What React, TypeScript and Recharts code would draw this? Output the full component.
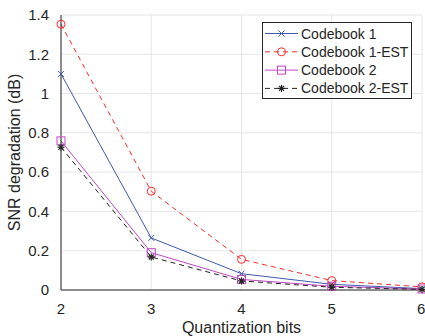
import { LineChart, Line, XAxis, YAxis, CartesianGrid } from "recharts";

const bits = [2, 3, 4, 5, 6];
const codebook1 = [1.1, 0.265, 0.083, 0.029, 0.007];
const codebook1Est = [1.353, 0.503, 0.156, 0.048, 0.016];
const codebook2 = [0.759, 0.19, 0.054, 0.019, 0.005];
const codebook2Est = [0.727, 0.168, 0.046, 0.014, 0.003];
const yTicks = [0, 0.2, 0.4, 0.6, 0.8, 1, 1.2, 1.4];

const data = bits.map((b, i) => ({
  bits: b,
  c1: codebook1[i],
  c1e: codebook1Est[i],
  c2: codebook2[i],
  c2e: codebook2Est[i],
}));

const BLUE = "#3d5aab";
const RED = "#ff2a2a";
const MAGENTA = "#c147c1";
const BLACK = "#222222";
const FONT = "Liberation Sans, Arial, sans-serif";

const marker = (kind: string, cx: number, cy: number, color: string, key?: any) => {
  if (kind === "x")
    return (
      <g key={key} stroke={color} strokeWidth={1}>
        <line x1={cx - 3} y1={cy - 3} x2={cx + 3} y2={cy + 3} />
        <line x1={cx - 3} y1={cy + 3} x2={cx + 3} y2={cy - 3} />
      </g>
    );
  if (kind === "o")
    return <circle key={key} cx={cx} cy={cy} r={4} fill="none" stroke={color} strokeWidth={1} />;
  if (kind === "s")
    return <rect key={key} x={cx - 4} y={cy - 4} width={8} height={8} fill="none" stroke={color} strokeWidth={1} />;
  return (
    <g key={key} stroke={color} strokeWidth={1.2}>
      <line x1={cx - 3.5} y1={cy} x2={cx + 3.5} y2={cy} />
      <line x1={cx} y1={cy - 3.5} x2={cx} y2={cy + 3.5} />
      <line x1={cx - 2.5} y1={cy - 2.5} x2={cx + 2.5} y2={cy + 2.5} />
      <line x1={cx - 2.5} y1={cy + 2.5} x2={cx + 2.5} y2={cy - 2.5} />
    </g>
  );
};

const dotFor = (kind: string, color: string) => (p: any) => marker(kind, p.cx, p.cy, color, p.key ?? p.index);

const series = [
  { key: "c1", name: "Codebook 1", color: BLUE, kind: "x", dash: undefined },
  { key: "c1e", name: "Codebook 1-EST", color: RED, kind: "o", dash: "5 4" },
  { key: "c2", name: "Codebook 2", color: MAGENTA, kind: "s", dash: undefined },
  { key: "c2e", name: "Codebook 2-EST", color: BLACK, kind: "*", dash: "5 4" },
];

const LegendBox = () => (
  <svg width={150} height={77} style={{ display: "block" }}>
    <rect x={0.5} y={0.5} width={149} height={76} fill="#fff" stroke="#262626" strokeWidth={1} />
    {series.map((s, i) => {
      const y = 11.5 + i * 18.3;
      return (
        <g key={s.key}>
          <line x1={3} y1={y} x2={36} y2={y} stroke={s.color} strokeWidth={1} strokeDasharray={s.dash} />
          {marker(s.kind, 19.5, y, s.color)}
          <text x={39} y={y + 5} fontSize={14} fill="#262626" fontFamily={FONT}>
            {s.name}
          </text>
        </g>
      );
    })}
  </svg>
);

export default function App() {
  return (
    <div style={{ position: "absolute", left: 0, top: 0, width: 425, height: 336, background: "#fff" }}>
      <LineChart width={425} height={336} data={data} margin={{ top: 15, right: 3, left: 0, bottom: 0 }}>
        <CartesianGrid stroke="#e6e6e6" strokeWidth={1} />
        <XAxis
          dataKey="bits"
          type="number"
          domain={[2, 6]}
          ticks={bits}
          height={46}
          stroke="#262626"
          tickLine={false}
          tickMargin={7}
          tick={{ fill: "#262626", fontSize: 15, fontFamily: FONT }}
          label={{ value: "Quantization bits", position: "insideBottom", offset: 3, fill: "#262626", fontSize: 16, fontFamily: FONT }}
        />
        <YAxis
          type="number"
          domain={[0, 1.4]}
          ticks={yTicks}
          width={61}
          stroke="#262626"
          tickLine={false}
          tickMargin={6}
          tick={{ fill: "#262626", fontSize: 15, fontFamily: FONT }}
          label={{ value: "SNR degradation (dB)", angle: -90, position: "insideLeft", offset: 14, style: { textAnchor: "middle" }, fill: "#262626", fontSize: 16, fontFamily: FONT }}
        />
        {series.map((s) => (
          <Line
            key={s.key}
            dataKey={s.key}
            name={s.name}
            type="linear"
            stroke={s.color}
            strokeWidth={1}
            strokeDasharray={s.dash}
            dot={dotFor(s.kind, s.color)}
            activeDot={false}
            isAnimationActive={false}
          />
        ))}
      </LineChart>
      <div style={{ position: "absolute", left: 262, top: 22 }}>
        <LegendBox />
      </div>
    </div>
  );
}
